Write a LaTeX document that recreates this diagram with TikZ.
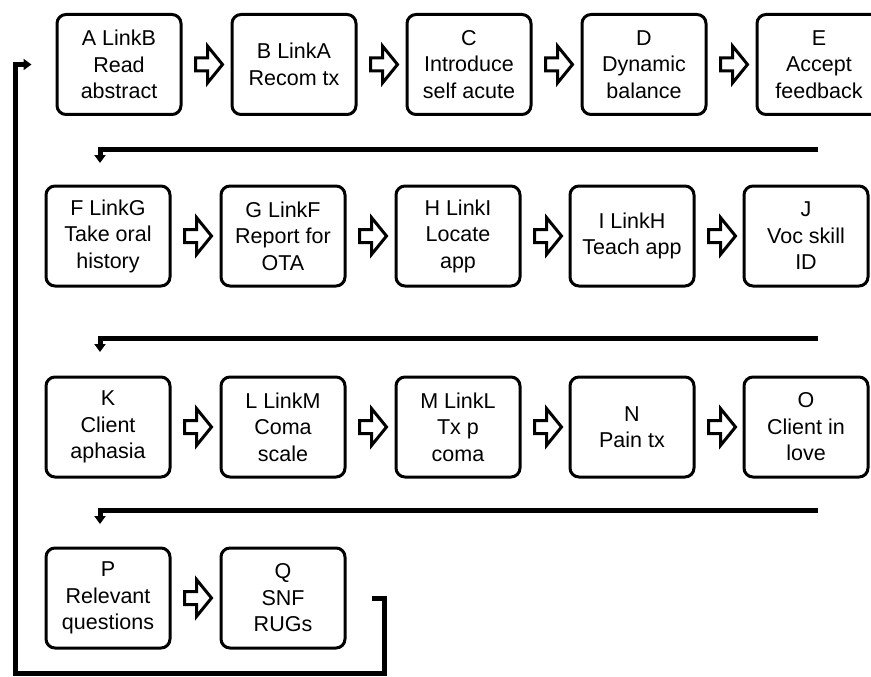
\documentclass[tikz,border=0pt]{standalone}
\usepackage{fontspec}
\setmainfont{Liberation Sans}
\usetikzlibrary{arrows.meta}

\begin{document}
\begin{tikzpicture}[x=1pt, y=-1pt,
    box/.style={rectangle, draw, line width=3pt, rounded corners=9pt, minimum width=124pt, minimum height=100pt, align=center, inner sep=2pt, font=\fontsize{21.5}{26.5}\selectfont},
    arrow/.style={line width=5pt, -{Triangle[width=11pt,length=8pt]}},
    hollow/.pic={\draw[line width=3pt, fill=white] (0,-6.5) -- (12,-6.5) -- (12,-18.5) -- (27,0) -- (12,18.5) -- (12,6.5) -- (0,6.5) -- cycle;}
]
    \clip (0,0) rectangle (871,677);

    % Row 1
    \node[box] (A) at (119,64.5) {A LinkB\\Read\\abstract};
    \node[box] (B) at (294,64.5) {B LinkA\\Recom tx};
    \node[box] (C) at (469,64.5) {C\\Introduce\\self acute};
    \node[box] (D) at (644,64.5) {D\\Dynamic\\balance};
    \node[box] (E) at (819,64.5) {E\\Accept\\feedback};

    % Row 2
    \node[box] (F) at (108,236) {F LinkG\\Take oral\\history};
    \node[box] (G) at (283,236) {G LinkF\\Report for\\OTA};
    \node[box] (H) at (458,236) {H LinkI\\Locate\\app};
    \node[box] (I) at (632,236) {I LinkH\\Teach app};
    \node[box] (J) at (806,236) {J\\Voc skill\\ID};

    % Row 3
    \node[box] (K) at (108,427) {K\\Client\\aphasia};
    \node[box] (L) at (283,427) {L LinkM\\Coma\\scale};
    \node[box] (M) at (458,427) {M LinkL\\Tx p\\coma};
    \node[box] (N) at (632,427) {N\\Pain tx};
    \node[box] (O) at (806,427) {O\\Client in\\love};

    % Row 4
    \node[box] (P) at (108,598) {P\\Relevant\\questions};
    \node[box] (Q) at (283,598) {Q\\SNF\\RUGs};

    % Block arrows between boxes
    \pic at ([xshift=13pt]A.east) {hollow};
    \pic at ([xshift=13pt]B.east) {hollow};
    \pic at ([xshift=13pt]C.east) {hollow};
    \pic at ([xshift=13pt]D.east) {hollow};
    \pic at ([xshift=13pt]F.east) {hollow};
    \pic at ([xshift=13pt]G.east) {hollow};
    \pic at ([xshift=13pt]H.east) {hollow};
    \pic at ([xshift=13pt]I.east) {hollow};
    \pic at ([xshift=13pt]K.east) {hollow};
    \pic at ([xshift=13pt]L.east) {hollow};
    \pic at ([xshift=13pt]M.east) {hollow};
    \pic at ([xshift=13pt]N.east) {hollow};
    \pic at ([xshift=13pt]P.east) {hollow};

    % Row returns
    \coordinate (r2s) at (818,149);
    \coordinate (r2e) at (100,163);
    \coordinate (r3s) at (818,338);
    \coordinate (r3e) at (100,352);
    \coordinate (r4s) at (818,510);
    \coordinate (r4e) at (100,524);
    \draw[arrow] (r2s) -| (r2e);
    \draw[arrow] (r3s) -| (r3e);
    \draw[arrow] (r4s) -| (r4e);

    % Loop back to start
    \coordinate (corner) at (15,673);
    \draw[arrow] ([xshift=25pt]Q.east) -- ++(13,0) |- (corner) |- ([xshift=-24pt]A.west);
\end{tikzpicture}
\end{document}
